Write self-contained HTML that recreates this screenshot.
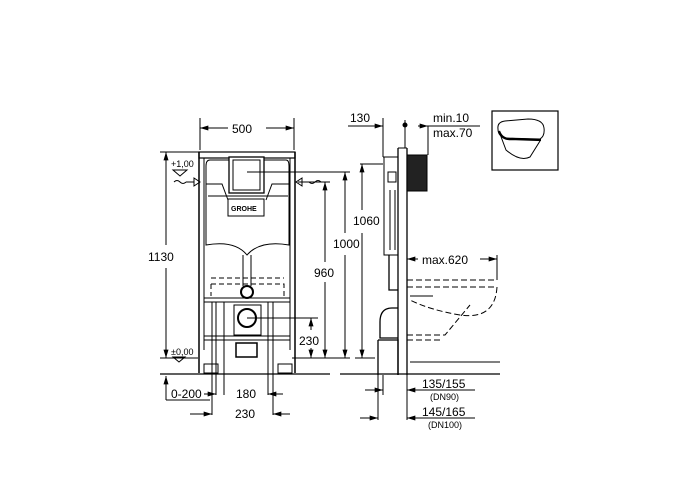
<!DOCTYPE html>
<html><head><meta charset="utf-8"><style>
html,body{margin:0;padding:0;background:#fff;width:700px;height:500px;overflow:hidden}
svg{display:block}
text{font-family:"Liberation Sans",sans-serif;fill:#000}
</style></head><body>
<svg width="700" height="500" viewBox="0 0 700 500" xmlns="http://www.w3.org/2000/svg">
<defs>
<marker id="a" viewBox="0 0 10 6" refX="10" refY="3" markerWidth="9" markerHeight="5" orient="auto-start-reverse"><path d="M0,0L10,3L0,6z" fill="#000"/></marker>
</defs>
<g stroke="#000" fill="none" stroke-width="1">
<line x1="200" y1="118" x2="200" y2="150"/><line x1="294" y1="118" x2="294" y2="150"/>
<line x1="200" y1="128" x2="228" y2="128" marker-start="url(#a)"/>
<line x1="266" y1="128" x2="294" y2="128" marker-end="url(#a)"/>
<line x1="160" y1="152" x2="200" y2="152"/>
<line x1="166" y1="152" x2="166" y2="245" marker-start="url(#a)"/>
<line x1="166" y1="268" x2="166" y2="358" marker-end="url(#a)"/>
<line x1="160" y1="358" x2="198" y2="358"/>
<line x1="292" y1="358" x2="350" y2="358"/>
<rect x="199" y="152" width="96" height="6" stroke-width="1.2"/>
<line x1="199" y1="152" x2="199" y2="373" stroke-width="1.5"/><line x1="204" y1="158" x2="204" y2="350"/>
<line x1="295" y1="152" x2="295" y2="373" stroke-width="1.5"/><line x1="290" y1="158" x2="290" y2="350"/>
<line x1="204" y1="298" x2="290" y2="298"/><line x1="204" y1="302" x2="290" y2="302"/>
<line x1="204" y1="336" x2="290" y2="336"/><line x1="204" y1="340" x2="290" y2="340"/>
<rect x="204" y="364" width="14" height="9"/><rect x="278" y="364" width="14" height="9"/>
<path d="M210,160 H286 Q289,160 289,166 V245 Q260,240 247,255 Q235,240 206,245 V166 Q206,160 210,160Z"/>
<path d="M206,184 H222 L228,200 M289,184 H272 L266,200"/>
<line x1="208" y1="196" x2="288" y2="196"/>
<rect x="229" y="157" width="35" height="36" stroke-width="1.3" fill="#fff"/>
<rect x="233" y="160" width="27" height="30"/>
<rect x="228" y="199" width="36" height="17" fill="#fff"/>
<line x1="243" y1="255" x2="243" y2="286"/><line x1="251" y1="255" x2="251" y2="286"/>
<circle cx="247" cy="292" r="6" stroke-width="2"/>
<path d="M211,284 H284 V296 M211,284 V296" stroke-dasharray="5,3"/>
<path d="M211,278 H284" stroke-dasharray="5,3"/>
<circle cx="247" cy="318" r="9" stroke-width="2"/>
<rect x="234" y="305" width="27" height="30"/>
<rect x="236" y="343" width="21" height="14" stroke-width="1.5"/>
<line x1="216" y1="302" x2="216" y2="395"/><line x1="224" y1="302" x2="224" y2="395"/>
<line x1="268" y1="302" x2="268" y2="395"/><line x1="273" y1="302" x2="273" y2="415"/>
<line x1="212" y1="302" x2="212" y2="415"/>
<line x1="247" y1="172" x2="350" y2="172"/>
<line x1="298" y1="182" x2="330" y2="182"/>
<line x1="247" y1="318" x2="318" y2="318"/>
<line x1="160" y1="374" x2="330" y2="374" stroke-width="1.3"/>
<line x1="166" y1="376" x2="166" y2="400" marker-start="url(#a)"/>
<line x1="166" y1="400" x2="210" y2="400"/>
<line x1="345" y1="172" x2="345" y2="233" marker-start="url(#a)"/><line x1="345" y1="255" x2="345" y2="358" marker-end="url(#a)"/>
<line x1="325" y1="182" x2="325" y2="262" marker-start="url(#a)"/><line x1="325" y1="282" x2="325" y2="358" marker-end="url(#a)"/>
<line x1="311" y1="318" x2="311" y2="330" marker-start="url(#a)"/><line x1="311" y1="348" x2="311" y2="358" marker-end="url(#a)"/>
<line x1="204" y1="394" x2="216" y2="394" marker-end="url(#a)"/>
<line x1="283" y1="394" x2="268" y2="394" marker-end="url(#a)"/>
<line x1="190" y1="414" x2="212" y2="414" marker-end="url(#a)"/>
<line x1="290" y1="414" x2="273" y2="414" marker-end="url(#a)"/>
<path d="M174,182 q3,-3 6,0 q3,3 6,0 M186,182 h8" /><path d="M194,178 l6,4 l-6,4z"/>
<path d="M321,182 q-3,-3 -6,0 q-3,3 -6,0 M309,182 h-8"/><path d="M302,178 l-6,4 l6,4z"/>
<path d="M173,170 h14 l-7,6z"/><path d="M173,357 h12 l-6,5z"/>
<line x1="398" y1="148" x2="398" y2="375" stroke-width="1.3"/><line x1="407" y1="148" x2="407" y2="375" stroke-width="1.3"/>
<line x1="398" y1="148" x2="407" y2="148"/>
<rect x="407" y="155" width="20" height="36" fill="#222"/>
<path d="M383,157 H398 M384,157 V255 H398" />
<rect x="388" y="172" width="8" height="10"/>
<path d="M390,190 V250 M395,190 V250"/>
<path d="M389,255 V290 H398" stroke-width="1.3"/>
<path d="M380,322 Q380,308 392,308 H398 M380,322 V338 H398 M378,340 H398 V375 M378,340 V375" stroke-width="1.3"/>
<line x1="405" y1="120" x2="405" y2="148"/><circle cx="405" cy="125" r="2" fill="#000"/>
<line x1="383" y1="118" x2="383" y2="157"/>
<line x1="348" y1="126" x2="383" y2="126" marker-end="url(#a)"/>
<line x1="428" y1="126" x2="480" y2="126"/>
<line x1="418" y1="126" x2="428" y2="126" marker-end="url(#a)"/>
<line x1="428" y1="126" x2="428" y2="155"/>
<line x1="360" y1="164" x2="383" y2="164"/>
<line x1="362" y1="164" x2="362" y2="210" marker-start="url(#a)"/><line x1="362" y1="233" x2="362" y2="358" marker-end="url(#a)"/>
<line x1="355" y1="358" x2="375" y2="358"/>
<line x1="407" y1="259" x2="418" y2="259" marker-start="url(#a)"/><line x1="480" y1="259" x2="497" y2="259" marker-end="url(#a)"/>
<line x1="497" y1="255" x2="497" y2="280"/>
<g stroke-dasharray="6,3">
<path d="M407,280 H497 M407,287 H497 Q495,320 460,315 Q430,310 410,300"/>
<path d="M407,335 H445 L470,305 M407,340 H440"/>
</g>
<path d="M410,296 H433"/>
<line x1="410" y1="362" x2="500" y2="362"/>
<line x1="340" y1="374" x2="500" y2="374" stroke-width="1.3"/>
<line x1="378" y1="375" x2="378" y2="420"/><line x1="383" y1="375" x2="383" y2="395"/><line x1="407" y1="375" x2="407" y2="420"/>
<line x1="365" y1="390" x2="383" y2="390" marker-end="url(#a)"/>
<line x1="418" y1="390" x2="407" y2="390" marker-end="url(#a)"/><line x1="418" y1="390" x2="475" y2="390"/>
<line x1="360" y1="418" x2="378" y2="418" marker-end="url(#a)"/>
<line x1="418" y1="418" x2="407" y2="418" marker-end="url(#a)"/><line x1="418" y1="418" x2="475" y2="418"/>
<rect x="492" y="111" width="66" height="59" stroke-width="1.2"/>
<path d="M498,129 Q497,122 505,121 L528,119 Q543,119 544,128 Q545,136 540,139 L505,138 Q498,136 498,129Z"/>
<path d="M499,131 Q502,140 512,139 L541,140" stroke-width="2.2"/>
<path d="M500,134 L506,150 Q520,162 530,157 L540,141"/>
</g>
<g font-size="12">
<text x="232" y="133">500</text>
<text x="148" y="261">1130</text>
<text x="333" y="248">1000</text>
<text x="314" y="277">960</text>
<text x="299" y="345">230</text>
<text x="171" y="398">0-200</text>
<text x="236" y="398">180</text>
<text x="235" y="418">230</text>
<text x="350" y="122">130</text>
<text x="433" y="122">min.10</text>
<text x="433" y="137">max.70</text>
<text x="353" y="225">1060</text>
<text x="422" y="264">max.620</text>
<text x="422" y="388">135/155</text>
<text x="422" y="416">145/165</text>
</g>
<g font-size="9">
<text x="171" y="167">+1,00</text>
<text x="171" y="355">±0,00</text>
<text x="430" y="400">(DN90)</text>
<text x="428" y="428">(DN100)</text>
<text x="231" y="211" font-size="7" font-weight="bold">GROHE</text>
</g>
</svg>
</body></html>
